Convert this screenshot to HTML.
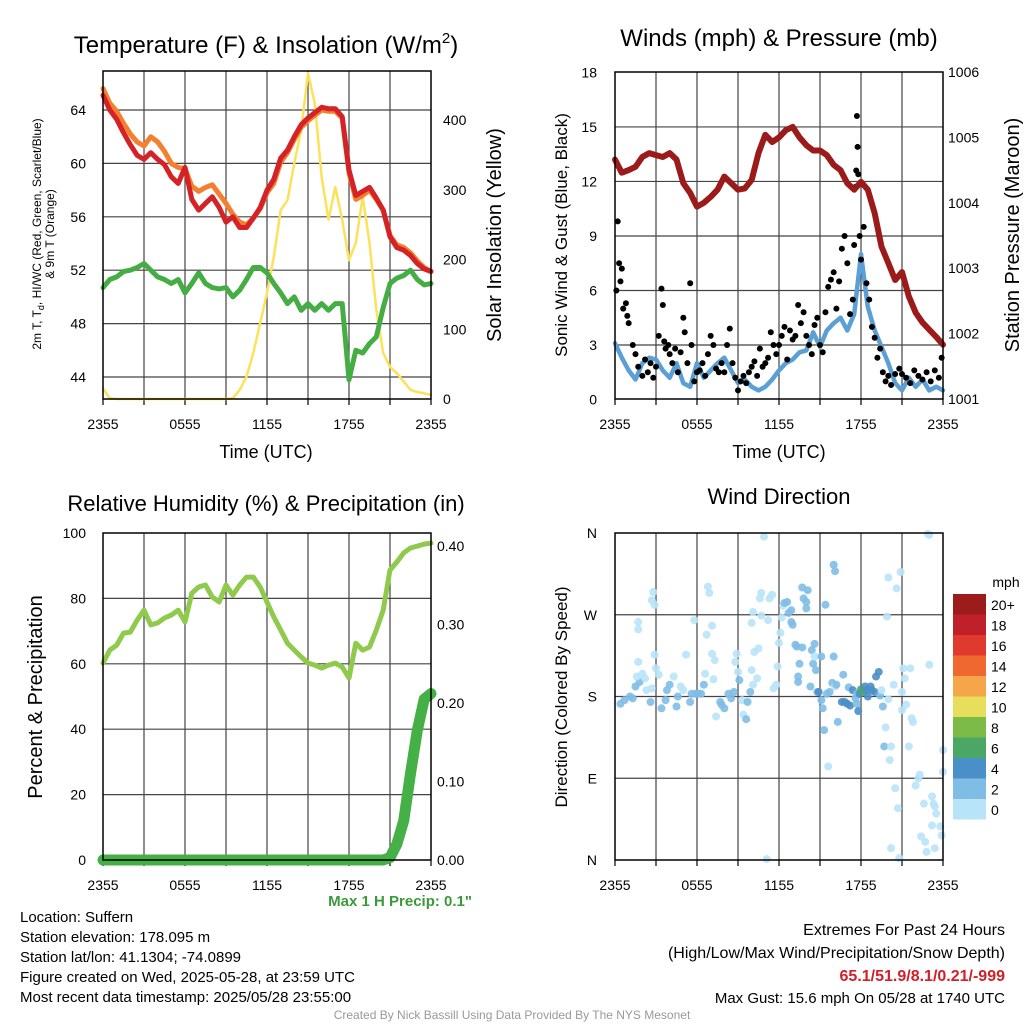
<!DOCTYPE html>
<html><head><meta charset="utf-8"><style>
html,body{margin:0;padding:0;background:#fff;}
svg{display:block;font-family:"Liberation Sans",Arial,sans-serif;}
</style></head><body>
<svg id="c" width="1024" height="1024" viewBox="0 0 1024 1024" xmlns="http://www.w3.org/2000/svg"></svg>
<script>
// ---- data (half-hourly, 0..24 h) ----
const xTickLabels = ["2355","0555","1155","1755","2355"];
const tempRed = [65.1,64,63.3,62.3,61.4,60.6,60.3,60.8,60.3,59.9,59.0,58.5,59.7,57.3,56.5,57.0,57.5,56.7,55.6,56.0,55.2,55.2,55.9,56.7,58.0,58.8,60.4,61.0,62.0,62.9,63.4,63.8,64.2,64.1,64.1,63.5,59.5,57.6,57.9,58.2,57.4,56.5,54.5,53.7,53.5,53.1,52.5,52.1,51.9];
const temp9m = [65.6,64.5,63.9,63.0,62.2,61.6,61.3,62.0,61.6,60.9,60.0,59.7,59.6,58.3,57.9,58.2,58.4,57.7,57.0,56.2,55.6,55.4,55.9,56.6,57.8,58.5,60.1,60.8,61.8,62.7,63.2,63.6,64.0,63.9,63.9,63.4,59.3,57.3,57.6,58.0,57.3,56.5,54.6,53.9,53.7,53.3,52.7,52.2,51.9];
const dewpoint = [50.7,51.3,51.5,51.9,52.0,52.2,52.5,52.0,51.5,51.3,51.0,51.3,50.3,51.0,51.8,51.0,50.7,50.6,50.7,50.0,50.5,51.3,52.2,52.2,51.8,51.0,50.3,49.5,50.0,49.0,49.5,49.0,49.5,49.0,49.5,49.5,43.8,46.0,45.8,46.5,47.0,49.2,51.0,51.4,51.6,52.0,51.3,50.9,51.0];
const solar = [15,1,0,0,0,0,0,0,0,0,0,0,0,0,0,0,0,0,0,1,13,32,66,109,152,204,271,285,338,386,467,424,318,257,304,257,199,224,290,224,128,66,46,37,25,13,10,8,6];
const pressure = [1004.66,1004.46,1004.5,1004.55,1004.7,1004.76,1004.73,1004.7,1004.76,1004.66,1004.3,1004.15,1003.94,1004.0,1004.09,1004.2,1004.4,1004.3,1004.2,1004.22,1004.35,1004.76,1005.04,1004.93,1005.0,1005.11,1005.16,1005.0,1004.88,1004.8,1004.8,1004.73,1004.58,1004.5,1004.3,1004.2,1004.32,1004.2,1003.84,1003.33,1003.08,1002.82,1002.94,1002.57,1002.32,1002.17,1002.06,1001.95,1001.83];
const windSpeed = [3.1,2.3,1.6,1.1,2.0,2.3,2.2,1.6,1.2,2.0,0.9,0.7,2.0,1.2,1.6,2.0,2.3,1.6,0.9,1.1,0.7,0.5,0.7,1.1,1.6,2.0,2.2,2.6,2.7,3.7,2.9,3.8,4.2,4.5,3.8,4.7,8.0,5.1,3.8,2.9,2.0,0.9,0.5,1.2,0.7,1.1,0.5,0.7,0.5];
const gustHours = [0.1,0.2,0.3,0.4,0.5,0.6,0.8,0.9,1.0,1.3,1.5,1.7,2.0,2.2,2.4,2.6,2.8,3.0,3.2,3.4,3.5,3.6,3.7,3.9,4.0,4.2,4.4,4.6,4.8,5.0,5.1,5.3,5.5,5.6,5.8,6.0,6.2,6.4,6.6,6.8,7.0,7.2,7.4,7.6,7.8,8.0,8.2,8.4,8.6,8.8,9.0,9.2,9.4,9.6,9.8,10.0,10.2,10.4,10.6,10.8,11.0,11.2,11.4,11.6,11.8,12.0,12.2,12.4,12.6,12.8,13.0,13.2,13.4,13.6,13.8,14.0,14.2,14.4,14.6,14.8,15.0,15.2,15.4,15.6,15.8,16.0,16.2,16.4,16.6,16.8,17.0,17.2,17.4,17.5,17.6,17.65,17.7,17.75,17.8,17.9,18.0,18.2,18.4,18.6,18.8,19.0,19.2,19.4,19.6,19.8,20.0,20.2,20.5,20.8,21.0,21.3,21.6,21.9,22.2,22.5,22.8,23.1,23.4,23.7,23.9];
const gustValues = [6.0,9.8,7.5,6.5,7.2,5.0,5.3,4.6,4.2,3.0,2.5,1.8,1.3,2.2,1.5,2.0,1.2,1.8,3.5,6.1,5.2,3.2,2.8,3.0,2.5,2.0,2.8,1.5,2.6,4.5,3.7,2.0,6.4,3.0,1.0,1.5,1.6,2.0,1.3,2.5,3.5,3.0,1.7,1.5,2.0,1.5,3.0,3.9,2.0,1.2,0.5,1.0,1.3,0.9,1.5,1.8,2.1,1.3,2.8,1.8,2.0,2.3,3.7,3.0,2.5,3.0,3.5,4.0,2.2,3.8,3.3,3.5,5.2,4.2,4.8,3.5,3.0,2.5,4.1,4.5,3.0,2.6,4.8,6.2,6.6,7.0,5.0,6.5,8.3,9.0,7.5,4.7,5.5,8.5,11.7,12.6,15.6,13.9,12.4,9.0,7.7,9.5,6.4,5.5,4.0,3.4,2.3,2.8,1.5,1.0,1.3,0.8,1.4,1.7,1.4,1.2,0.9,1.6,1.3,1.1,1.5,1.0,1.6,1.2,2.3];
const relHumidity = [60.2,64.2,65.7,69.4,69.7,73.4,76.4,71.9,72.5,74,74.9,76.4,72.8,81.6,83.5,84.1,80.4,78.9,84.1,81.0,84.1,86.5,86.5,83.5,78.9,74.3,70.3,66.3,64.2,62.1,60.2,59.6,58.7,59.6,60.2,59.0,55.7,66.3,64.2,65.1,70.3,76.4,88.7,91.1,93.9,95.4,96.0,96.6,96.9];
const precip = [0,0,0,0,0,0,0,0,0,0,0,0,0,0,0,0,0,0,0,0,0,0,0,0,0,0,0,0,0,0,0,0,0,0,0,0,0,0,0,0,0,0,0.003,0.02,0.05,0.11,0.165,0.205,0.212];
const dirHours = [0.4,0.7,1.1,1.3,1.5,1.8,2.0,2.2,2.3,2.6,2.7,2.9,3.0,3.2,1.7,1.6,1.7,1.7,2.8,2.7,2.9,3.4,3.7,3.8,4.0,4.3,4.5,4.6,4.8,5.0,5.2,5.5,5.6,5.9,6.1,6.3,6.5,5.8,6.6,6.8,6.9,7.1,6.7,7.1,7.2,7.3,7.4,7.7,7.8,8.0,8.3,8.5,8.7,8.8,8.9,9.0,9.1,9.3,9.4,9.6,9.7,9.9,10.0,10.1,10.4,10.2,10.5,10.0,10.1,10.7,10.6,10.7,10.9,11.2,11.3,11.5,11.6,11.8,11.9,12.0,12.1,12.2,12.3,12.4,12.6,12.7,12.9,12.9,13.0,13.2,13.3,13.7,13.5,13.4,13.4,13.7,14.1,13.8,14.0,14.0,14.3,14.4,14.5,14.6,14.6,14.7,14.8,14.9,15.1,15.1,15.2,15.3,15.4,15.5,15.6,15.7,15.9,16.0,16.0,16.1,16.1,16.2,16.3,16.6,16.7,16.8,17.0,17.1,17.2,17.4,17.6,17.7,17.7,17.8,17.9,18.0,18.2,18.3,18.4,18.5,18.7,18.8,19.0,19.1,19.3,19.4,19.5,19.6,19.8,19.7,19.9,20.0,20.0,20.1,20.2,20.4,20.5,20.6,20.7,20.8,20.9,21.0,21.0,21.1,21.2,21.3,21.5,21.6,21.7,21.8,22.0,22.2,22.3,22.4,22.6,22.7,22.8,22.9,23.0,23.0,23.2,23.3,23.4,23.5,23.2,23.8,23.9,24.0,24.0,23.4,20.2,11.1];
const dirDegrees = [172,176,180,178,191,196,205,200,187,174,189,226,211,204,218,202,262,254,295,286,281,167,176,187,193,202,169,180,191,187,226,174,183,183,183,183,193,264,205,301,294,258,248,227,199,220,158,174,171,167,183,178,185,218,227,207,198,176,160,155,174,185,209,193,200,229,233,261,273,269,288,294,356,264,288,292,189,193,213,239,250,267,280,283,284,272,275,262,259,237,235,234,216,202,196,300,297,288,284,277,191,231,216,238,224,209,185,185,224,176,167,143,281,183,103,185,195,224,325,318,191,193,152,174,204,174,172,190,170,187,178,183,172,164,183,188,185,191,187,180,191,187,185,202,207,181,187,169,146,125,268,311,177,110,125,193,79,299,57,2,317,185,165,211,200,171,125,211,156,152,82,90,94,26,62,20,9,359,358,215,70,62,59,51,38,37,27,121,97,13,13,1];
const dirSpeeds = [3,3,3,3,3,3,1,1,1,3,1,1,1,1,1,1,1,1,1,1,1,3,3,3,3,1,3,3,1,1,1,3,3,3,3,3,3,1,1,1,1,1,1,1,1,1,1,3,3,3,3,3,3,1,1,1,3,1,1,3,3,3,1,1,1,1,1,1,1,1,1,1,1,1,1,1,1,1,1,1,1,1,1,3,3,3,3,3,3,3,3,3,3,3,3,3,3,3,3,3,3,3,3,3,1,3,3,5,3,3,3,3,3,3,1,3,3,3,3,3,1,3,3,5,3,5,5,3,5,5,3,3,3,5,5,7,7,5,5,5,5,5,5,5,5,3,1,3,1,3,1,1,1,1,1,1,1,1,1,1,1,1,1,1,1,1,1,1,1,1,1,1,1,1,1,1,1,1,1,1,1,1,1,1,1,1,1,1,1,1,1,1,1,1];
const speedLabels = ["20+","18","16","14","12","10","8","6","4","2","0"];
const speedColors = ["#9c1b1b","#c0202a","#e03a2e","#ef6830","#f6a64a","#e7df5c","#7dbb48","#4ba766","#4a8fc8","#7fbce6","#b8e3f8"];

const S = document.getElementById('c');
const NS = 'http://www.w3.org/2000/svg';
function mk(tag, attrs, parent){ const e=document.createElementNS(NS,tag); for(const k in attrs) e.setAttribute(k,attrs[k]); (parent||S).appendChild(e); return e; }
function txt(x,y,s,size,anchor,extra){ const e=mk('text',Object.assign({x:x,y:y,'font-size':size,'text-anchor':anchor||'start',fill:'#000'},extra||{})); e.textContent=s; return e; }

function panel(p){
  const g = mk('g',{});
  
  
  for(let h=3;h<24;h+=3){ const x=p.x0+(p.x1-p.x0)*h/24; const l=mk('line',{x1:x,x2:x,y1:p.y0,y2:p.y1,stroke:'#444','stroke-width':1.2},g);   }
  p.hgrid.forEach(y=>{ const l=mk('line',{x1:p.x0,x2:p.x1,y1:y,y2:y,stroke:'#444','stroke-width':1.2},g);   });
  xTickLabels.forEach((s,i)=>{ const x=p.x0+(p.x1-p.x0)*i/4; const t=txt(x,p.y1+30,s,14,'middle');   });
  for(let h=0;h<=24;h+=3){ const x=p.x0+(p.x1-p.x0)*h/24; mk('line',{x1:x,x2:x,y1:p.y1,y2:p.y1+6,stroke:'#000','stroke-width':1.2},g); }
  return g;
}
function frame(p){ const r=mk('rect',{x:p.x0,y:p.y0,width:p.x1-p.x0,height:p.y1-p.y0,fill:'none',stroke:'#000','stroke-width':1.5});   }
function line(arr, xf, yf, color, w, name){
  const d = arr.map((v,i)=>(i?'L':'M')+xf(i/2).toFixed(1)+','+yf(v).toFixed(1)).join('');
  const e = mk('path',{d:d,fill:'none',stroke:color,'stroke-width':w,'stroke-linejoin':'round','stroke-linecap':'round'});
  
  
  return e;
}

// ===== Panel 1 =====
const P1={x0:103,x1:431,y0:71,y1:399,name:'temperature-panel'};
const x1f=h=>P1.x0+(P1.x1-P1.x0)*h/24;
const yT=v=>110+(64-v)*13.35;
const yS=v=>399-v*0.6975;
P1.hgrid=[64,60,56,52,48,44].map(yT);
panel(P1);
line(solar,x1f,yS,'#fce25a',2.5,'solar-insolation-line');
line(temp9m,x1f,yT,'#f47f2e',5,'temp-9m-line');
line(tempRed,x1f,yT,'#d42227',5,'temp-2m-line');
line(dewpoint,x1f,yT,'#44ae44',5,'dewpoint-line');
frame(P1);
[64,60,56,52,48,44].forEach(v=>{const t=txt(86,yT(v)+5,String(v),14,'end');  });
[0,100,200,300,400].forEach(v=>{const t=txt(443,yS(v)+5,String(v),14,'start');  });
{const t=txt(266,53,'Temperature (F) & Insolation (W/m',24,'middle'); const ts=mk('tspan',{dy:-10,'font-size':15},t); ts.textContent='2'; const ts2=mk('tspan',{dy:10},t); ts2.textContent=')';  }
{const t=txt(266,458,'Time (UTC)',18,'middle');  }
{const t=txt(0,0,'2m T, T',12,'middle',{transform:'translate(41,234) rotate(-90)'}); const a=mk('tspan',{dy:3,'font-size':9},t); a.textContent='d'; const b=mk('tspan',{dy:-3},t); b.textContent=', HI/WC (Red, Green, Scarlet/Blue)';  }
{const t=txt(0,0,'& 9m T (Orange)',12,'middle',{transform:'translate(54,234) rotate(-90)'});  }
{const t=txt(0,0,'Solar Insolation (Yellow)',20,'middle',{transform:'translate(501,235) rotate(-90)'});  }

// ===== Panel 2 =====
const P2={x0:615,x1:943,y0:72,y1:399,name:'wind-pressure-panel'};
const x2f=h=>P2.x0+(P2.x1-P2.x0)*h/24;
const yW=v=>399.5-v*18.17;
const yP=v=>399-(v-1001)*65.4;
P2.hgrid=[3,6,9,12,15].map(yW);
panel(P2);
line(windSpeed,x2f,yW,'#5a9fd6',4.5,'sonic-wind-line');
gustHours.forEach((h,i)=>{ const c=mk('circle',{cx:x2f(h),cy:yW(gustValues[i]),r:3,fill:'#000'});
  
   });
line(pressure,x2f,yP,'#9b1b1b',6,'pressure-line');
frame(P2);
[0,3,6,9,12,15,18].forEach(v=>{const t=txt(597,yW(v)+5,String(v),14,'end');  });
[1001,1002,1003,1004,1005,1006].forEach(v=>{const t=txt(948,yP(v)+5,String(v),14,'start');  });
{const t=txt(779,46,'Winds (mph) & Pressure (mb)',24,'middle');  }
{const t=txt(779,458,'Time (UTC)',18,'middle');  }
{const t=txt(0,0,'Sonic Wind & Gust (Blue, Black)',17,'middle',{transform:'translate(567,235) rotate(-90)'});  }
{const t=txt(0,0,'Station Pressure (Maroon)',20,'middle',{transform:'translate(1019,235) rotate(-90)'});  }

// ===== Panel 3 =====
const P3={x0:103,x1:431,y0:533,y1:860,name:'humidity-precip-panel'};
const x3f=h=>P3.x0+(P3.x1-P3.x0)*h/24;
const yRH=v=>860-v*3.27;
const yPr=v=>860-v*785;
P3.hgrid=[20,40,60,80].map(yRH);
panel(P3);
line(relHumidity,x3f,yRH,'#8fca4c',5,'humidity-line');
line(precip,x3f,yPr,'#45b045',11,'precip-line');
frame(P3);
[0,20,40,60,80,100].forEach(v=>{const t=txt(86,yRH(v)+5,String(v),14,'end');  });
[0,0.1,0.2,0.3,0.4].forEach(v=>{const t=txt(437,yPr(v)+5,v.toFixed(2),14,'start');  });
{const t=txt(266,511,'Relative Humidity (%) & Precipitation (in)',22,'middle');  }
{const t=txt(0,0,'Percent & Precipitation',20,'middle',{transform:'translate(42,697) rotate(-90)'});  }
{const t=txt(472,906,'Max 1 H Precip: 0.1"',15,'end',{fill:'#3a9a3a','font-weight':'bold'});  }

// ===== Panel 4 =====
const P4={x0:615,x1:943,y0:533,y1:860,name:'wind-direction-panel'};
const x4f=h=>P4.x0+(P4.x1-P4.x0)*h/24;
const yD=v=>860-v*327/360;
P4.hgrid=[90,180,270].map(yD);
panel(P4);
function spdColor(s){ const idx=Math.min(10,Math.floor(s/2)); return speedColors[10-idx]; }
dirHours.forEach((h,i)=>{ const c=mk('circle',{cx:x4f(h),cy:yD(dirDegrees[i]),r:4,fill:spdColor(dirSpeeds[i]),'fill-opacity':0.9});
  
   });
frame(P4);
["N","E","S","W","N"].forEach((s,i)=>{const t=txt(597,yD(i*90)+5,s,14,'end');  });
{const t=txt(779,504,'Wind Direction',22,'middle');  }
{const t=txt(0,0,'Direction (Colored By Speed)',17,'middle',{transform:'translate(567,697) rotate(-90)'});  }
{const t=txt(1006,587,'mph',14,'middle');  }
speedLabels.forEach((s,i)=>{ const y=594+i*20.5;
  const r=mk('rect',{x:953,y:y,width:33,height:20.5,fill:speedColors[i]});
  
  
  const t=txt(991,y+16,s,14,'start');
  
   });

// ===== Footer =====
["Location: Suffern","Station elevation: 178.095 m","Station lat/lon: 41.1304; -74.0899","Figure created on Wed, 2025-05-28, at 23:59 UTC","Most recent data timestamp: 2025/05/28 23:55:00"].forEach((s,i)=>{
  const t=txt(20,922+i*20,s,15,'start');
  
   });
{const t=txt(1005,935,'Extremes For Past 24 Hours',16,'end');  }
{const t=txt(1005,958,'(High/Low/Max Wind/Precipitation/Snow Depth)',16,'end');  }
{const t=txt(1005,981,'65.1/51.9/8.1/0.21/-999',16,'end',{fill:'#d0202a','font-weight':'bold'});  }
{const t=txt(1005,1003,'Max Gust: 15.6 mph On 05/28 at 1740 UTC',15,'end');  }
{const t=txt(512,1019,'Created By Nick Bassill Using Data Provided By The NYS Mesonet',12,'middle',{fill:'#999'});  }
</script>
</body></html>
